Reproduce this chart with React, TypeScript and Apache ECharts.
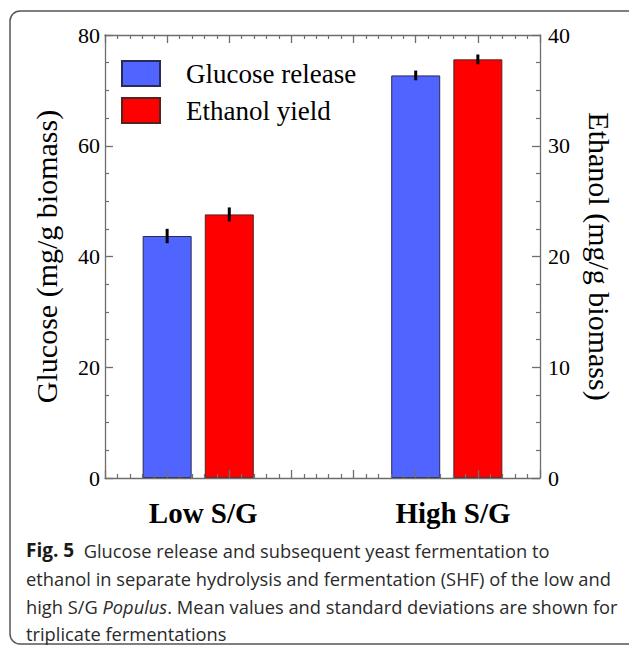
import React, { useEffect, useRef } from "react";
import * as echarts from "echarts";

const categories = ["Low S/G", "High S/G"];
const glucose = [43.7, 72.7];
const glucoseSD = [1.3, 0.88];
const ethanol = [23.8, 37.8];
const ethanolSD = [0.63, 0.44];
const legendNames = ["Glucose release", "Ethanol yield"];
const leftTicks = { min: 0, max: 80, interval: 20 };
const rightTicks = { min: 0, max: 40, interval: 10 };
const captionLines = [
  "Glucose release and subsequent yeast fermentation to",
  "ethanol in separate hydrolysis and fermentation (SHF) of the low and",
  "Mean values and standard deviations are shown for",
  "triplicate fermentations",
];

const SERIF = "'Liberation Serif', 'Times New Roman', serif";
const SANS = "'Open Sans', 'Noto Sans', sans-serif";

export default function App() {
  const ref = useRef<HTMLDivElement>(null);
  useEffect(() => {
    if (!ref.current) return;
    const chart = echarts.init(ref.current, undefined, { renderer: "svg" });
    const glucoseX = categories.map((_, i) => 1 + 4 * i);
    const ethanolX = categories.map((_, i) => 2 + 4 * i);
    const labelX = [1.58, 5.6];
    const axisGray = "#6e6e6e";
    const xCommon = {
      type: "value",
      min: 0,
      max: 7,
      interval: 1,
      z: 5,
      axisLine: { show: true, onZero: false, lineStyle: { color: axisGray, width: 1.3 } },
      axisTick: { show: true, inside: true, length: 8, lineStyle: { color: axisGray, width: 1.3 } },
      minorTick: { show: true, splitNumber: 5, length: 4, lineStyle: { color: axisGray, width: 1.2 } },
      axisLabel: { show: false },
      splitLine: { show: false },
    };
    const yCommon = (t: any) => ({
      type: "value",
      min: t.min,
      max: t.max,
      interval: t.interval,
      axisLine: { show: true, onZero: false, lineStyle: { color: axisGray, width: 1.3 } },
      axisTick: { show: true, inside: true, length: 8, lineStyle: { color: axisGray, width: 1.3 } },
      minorTick: { show: true, splitNumber: 4, length: 4, lineStyle: { color: axisGray, width: 1.2 } },
      splitLine: { show: false },
      nameLocation: "middle",
      nameTextStyle: { fontFamily: SERIF, fontSize: 30, color: "#000" },
    });
    const errRender = (params: any, api: any) => {
      const x = api.value(0);
      const p1 = api.coord([x, api.value(1)]);
      const p2 = api.coord([x, api.value(2)]);
      return {
        type: "line",
        shape: { x1: p1[0], y1: p1[1], x2: p2[0], y2: p2[1] },
        style: { stroke: "#000", lineWidth: 3 },
        z2: 10,
      };
    };
    const capStyle = { fontSize: 18.3, fontFamily: SANS, fill: "#2a2a2a", verticalAlign: "middle" };
    const option: any = {
      animation: false,
      backgroundColor: "#fff",
      grid: { left: 105, right: 89, top: 35, bottom: 169, containLabel: false, outerBoundsMode: "none" },
      legend: {
        data: legendNames,
        orient: "vertical",
        left: 116,
        top: 55,
        itemWidth: 38,
        itemHeight: 25,
        itemGap: 10,
        icon: "rect",
        textStyle: { fontFamily: SERIF, fontSize: 27, color: "#000", padding: [0, 0, 0, 21] },
      },
      xAxis: [
        { ...xCommon, position: "bottom" },
        { ...xCommon, position: "top" },
        {
          type: "value",
          min: 0,
          max: 7,
          position: "bottom",
          axisLine: { show: false, onZero: false },
          axisTick: { show: false },
          splitLine: { show: false },
          axisLabel: {
            show: true,
            customValues: labelX,
            margin: 20,
            fontFamily: SERIF,
            fontSize: 29,
            fontWeight: "bold",
            color: "#000",
            formatter: (v: number) => {
              const idx = labelX.findIndex((p) => Math.abs(p - v) < 0.01);
              return idx >= 0 ? categories[idx] : "";
            },
          },
        },
      ],
      yAxis: [
        {
          ...yCommon(leftTicks),
          position: "left",
          name: "Glucose (mg/g biomass)",
          nameRotate: 90,
          nameGap: 44,
          axisLabel: { fontFamily: SERIF, fontSize: 22, color: "#000", margin: 5 },
        },
        {
          ...yCommon(rightTicks),
          position: "right",
          name: "Ethanol (mg/g biomass)",
          nameRotate: -90,
          nameGap: 44,
          axisLabel: { fontFamily: SERIF, fontSize: 22, color: "#000", margin: 8 },
        },
      ],
      series: [
        {
          name: legendNames[0],
          type: "bar",
          xAxisIndex: 0,
          yAxisIndex: 0,
          barWidth: 49,
          barGap: "-100%",
          itemStyle: { color: "#5064ff", borderColor: "#2a2a55", borderWidth: 1 },
          data: glucose.map((v, i) => [glucoseX[i], v]),
        },
        {
          name: legendNames[1],
          type: "bar",
          xAxisIndex: 0,
          yAxisIndex: 1,
          barWidth: 49,
          barGap: "-100%",
          itemStyle: { color: "#ff0000", borderColor: "#552222", borderWidth: 1 },
          data: ethanol.map((v, i) => [ethanolX[i], v]),
        },
        {
          type: "custom",
          xAxisIndex: 0,
          yAxisIndex: 0,
          renderItem: errRender,
          encode: { x: 0, y: [1, 2] },
          z: 4,
          data: glucose.map((v, i) => [glucoseX[i], v - glucoseSD[i], v + glucoseSD[i]]),
        },
        {
          type: "custom",
          xAxisIndex: 0,
          yAxisIndex: 1,
          renderItem: errRender,
          encode: { x: 0, y: [1, 2] },
          z: 4,
          data: ethanol.map((v, i) => [ethanolX[i], v - ethanolSD[i], v + ethanolSD[i]]),
        },
      ],
      graphic: [
        {
          type: "rect",
          shape: { x: 10, y: 11, width: 640, height: 633, r: 10 },
          style: { fill: "none", stroke: "#555", lineWidth: 1.5 },
          silent: true,
        },
        {
          type: "text",
          x: 26,
          y: 550,
          style: {
            ...capStyle,
            text: "{b|Fig. 5}  " + captionLines[0],
            rich: { b: { fontWeight: "bold", fontSize: 19, fontFamily: SANS, fill: "#1a1a1a" } },
          },
        },
        { type: "text", x: 26, y: 578, style: { ...capStyle, text: captionLines[1] } },
        {
          type: "text",
          x: 26,
          y: 606,
          style: {
            ...capStyle,
            text: "high S/G {i|Populus}. " + captionLines[2],
            rich: { i: { fontStyle: "italic", fontSize: 18.3, fontFamily: SANS, fill: "#2a2a2a" } },
          },
        },
        { type: "text", x: 26, y: 633, style: { ...capStyle, text: captionLines[3] } },
      ],
    };
    chart.setOption(option);
    return () => chart.dispose();
  }, []);
  return (
    <div
      ref={ref}
      style={{ position: "fixed", left: 0, top: 0, width: 629, height: 647, background: "#fff" }}
    />
  );
}
